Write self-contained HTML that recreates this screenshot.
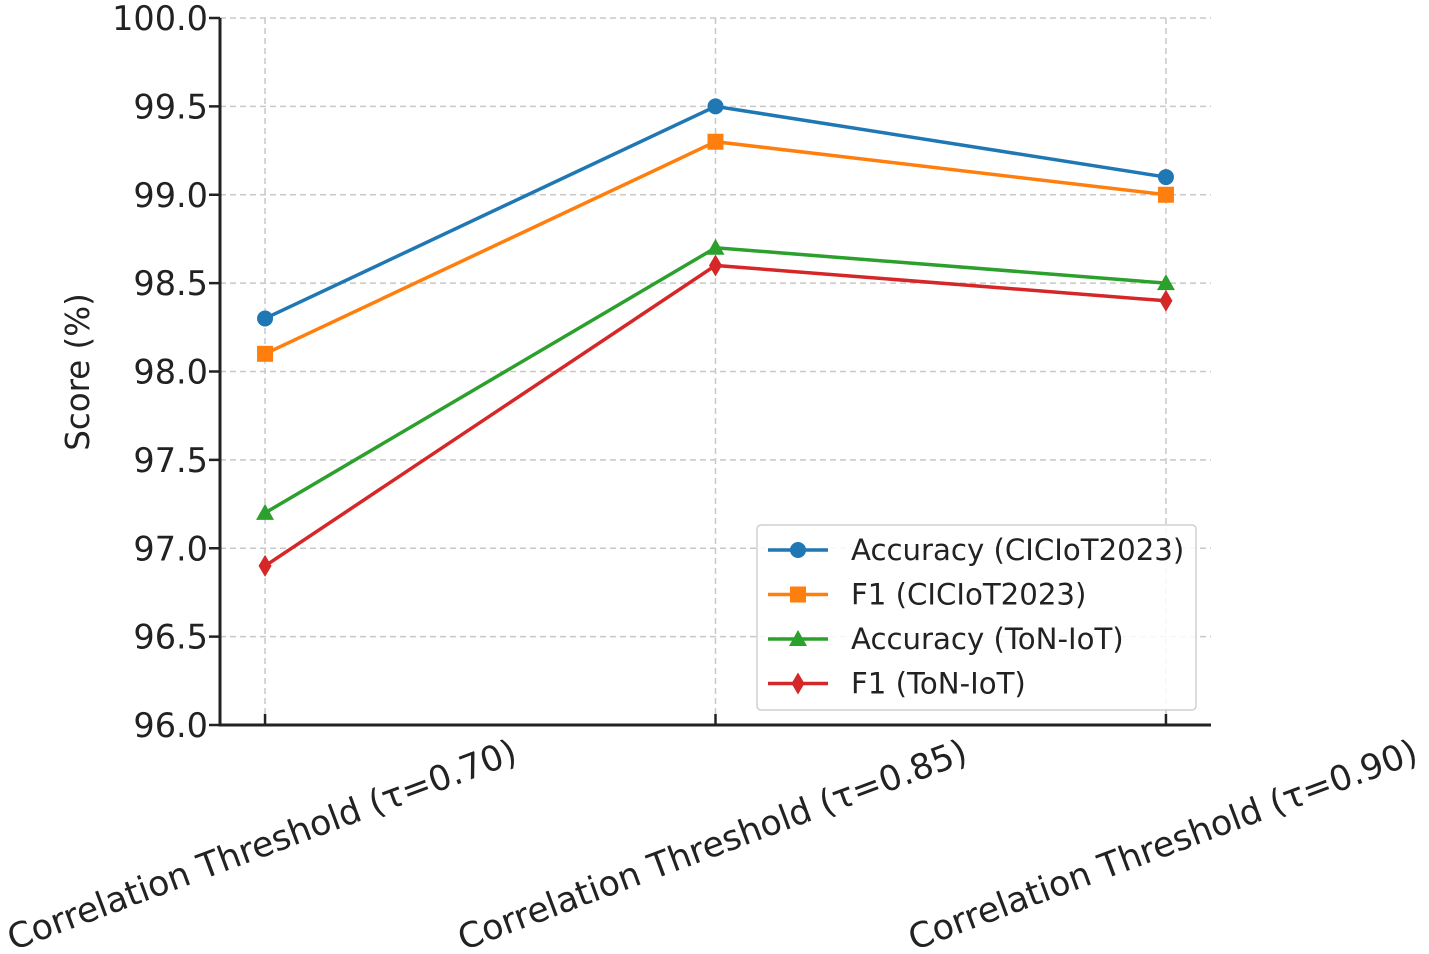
<!DOCTYPE html>
<html><head><meta charset="utf-8"><style>
body{margin:0;background:#fff}
svg{display:block;font-family:"DejaVu Sans","Liberation Sans",sans-serif}
</style></head><body>
<svg id="chart" width="1429" height="954" viewBox="0 0 1429 954" xmlns="http://www.w3.org/2000/svg">
<g id="grid"></g>
<g id="series"></g>
<g id="axes"></g>
<text transform="translate(89,372) rotate(-90)" text-anchor="middle" font-size="32.5" fill="#222">Score (%)</text>
<g id="legend"></g>
</svg>
<script>
const categories=["Correlation Threshold (τ=0.70)","Correlation Threshold (τ=0.85)","Correlation Threshold (τ=0.90)"];
const seriesNames=["Accuracy (CICIoT2023)","F1 (CICIoT2023)","Accuracy (ToN-IoT)","F1 (ToN-IoT)"];
const accCIC=[98.3,99.5,99.1];
const f1CIC=[98.1,99.3,99.0];
const accTON=[97.2,98.7,98.5];
const f1TON=[96.9,98.6,98.4];
const yTicks=[96.0,96.5,97.0,97.5,98.0,98.5,99.0,99.5,100.0];
const colors=["#1f77b4","#ff7f0e","#2ca02c","#d62728"];
const markers=["circle","square","triangle","diamond"];
const NS="http://www.w3.org/2000/svg";
const L=220,R=1211,T=18,B=725;
const x=i=>L+(i+0.1)/2.2*(R-L);
const y=v=>B-(v-96)/4*(B-T);
function mk(tag,attrs,parent){const e=document.createElementNS(NS,tag);for(const k in attrs)e.setAttribute(k,attrs[k]);parent.appendChild(e);return e;}
const grid=document.getElementById('grid'),axes=document.getElementById('axes'),ser=document.getElementById('series'),leg=document.getElementById('legend');
yTicks.forEach(t=>{
 const g=mk('line',{x1:L,x2:R,y1:y(t),y2:y(t),stroke:'#c8c8c8','stroke-width':1.5,'stroke-dasharray':'6,4'},grid);
 
 
 const tk=mk('line',{x1:L-11,x2:L,y1:y(t),y2:y(t),stroke:'#222','stroke-width':2.5},axes);
 
 
 const tl=mk('text',{x:L-12,y:y(t)+12,'text-anchor':'end','font-size':33.5,fill:'#222'},axes);
 tl.textContent=t.toFixed(1);
 
 
});
categories.forEach((c,i)=>{
 const g=mk('line',{x1:x(i),x2:x(i),y1:T,y2:B,stroke:'#c8c8c8','stroke-width':1.5,'stroke-dasharray':'6,4'},grid);
 
 
 const tk=mk('line',{x1:x(i),x2:x(i),y1:B-11,y2:B,stroke:'#222','stroke-width':2.5},axes);
 
 
 const tl=mk('text',{transform:`translate(${x(i)+1},${B+131}) rotate(-20.5)`,'text-anchor':'middle','font-size':34.8,fill:'#222'},axes);
 tl.textContent=c;
 
 
});
const ax1=mk('line',{x1:L,x2:L,y1:T,y2:B+1.5,stroke:'#222','stroke-width':3},axes);


const ax2=mk('line',{x1:L-1.5,x2:R,y1:B,y2:B,stroke:'#222','stroke-width':3},axes);


function marker(type,cx,cy,col,parent){
 let e;
 if(type==='circle')e=mk('circle',{cx,cy,r:8,fill:col},parent);
 else if(type==='square')e=mk('rect',{x:cx-8,y:cy-8,width:16,height:16,fill:col},parent);
 else if(type==='triangle')e=mk('polygon',{points:`${cx},${cy-9} ${cx+9},${cy+7} ${cx-9},${cy+7}`,fill:col},parent);
 else e=mk('polygon',{points:`${cx},${cy-11} ${cx+6.5},${cy} ${cx},${cy+11} ${cx-6.5},${cy}`,fill:col},parent);
 return e;
}
const data=[accCIC,f1CIC,accTON,f1TON];
data.forEach((vals,s)=>{
 const g=mk('g',{},ser);
 
 
 const pl=mk('polyline',{points:vals.map((v,i)=>x(i)+','+y(v)).join(' '),fill:'none',stroke:colors[s],'stroke-width':3.5},g);
 
 
 vals.forEach((v,i)=>{
  const m=marker(markers[s],x(i),y(v),colors[s],g);
  
  
 });
});
const box=mk('rect',{x:757,y:525,width:439,height:185,rx:4,fill:'#fff','fill-opacity':0.85,stroke:'#d0d0d0','stroke-width':1.5},leg);


seriesNames.forEach((n,s)=>{
 const yy=550+s*44.5;
 const g=mk('g',{},leg);
 
 
 mk('line',{x1:768,x2:828,y1:yy,y2:yy,stroke:colors[s],'stroke-width':3.5},g);
 marker(markers[s],798,yy,colors[s],g);
 const t=mk('text',{x:851,y:yy+10,'font-size':29.2,fill:'#222'},g);
 t.textContent=n;
});
</script>
</body></html>
